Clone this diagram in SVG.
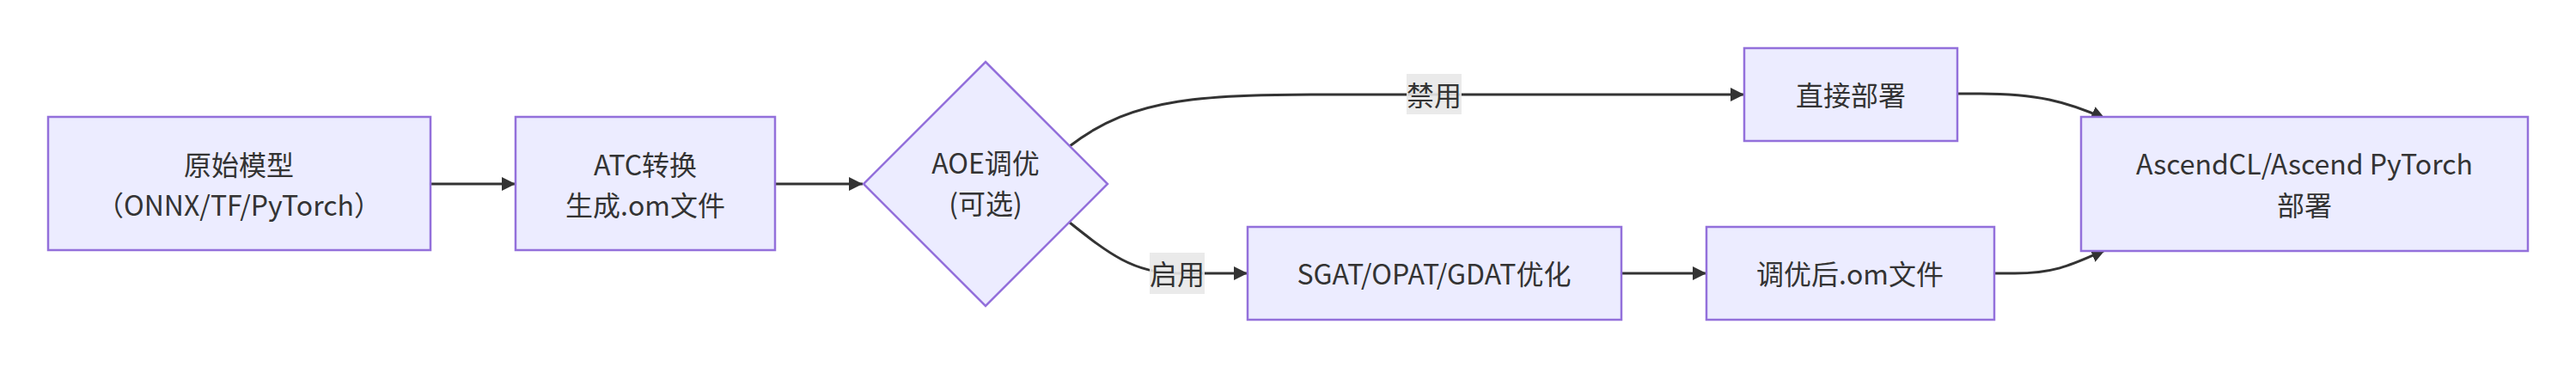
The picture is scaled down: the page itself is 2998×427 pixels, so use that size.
<svg xmlns="http://www.w3.org/2000/svg" width="2998" height="427" viewBox="0 0 2998 427">
<style>
.node rect, .node polygon { fill: #ECECFF; stroke: #9370DB; stroke-width: 2.5; }
.lbl { font-family: "Noto Sans CJK SC", "Liberation Sans", sans-serif; font-size: 32px; fill: #333333; text-anchor: middle; dominant-baseline: central; }
.edge { fill: none; stroke: #333333; stroke-width: 3; }
.elbg { fill: #E8E8E8; opacity: 0.9; }
</style>
<defs>
<marker id="arrow" viewBox="0 0 10 10" refX="10" refY="5" markerWidth="16" markerHeight="16" markerUnits="userSpaceOnUse" orient="auto">
<path d="M0,0 L10,5 L0,10 z" fill="#333333"/>
</marker>
</defs>
<rect width="2998" height="427" fill="#ffffff"/>
<g id="connectors">
<path class="edge" d="M501,214 L600,214" marker-end="url(#arrow)"/>
<path class="edge" d="M902,214 L1004,214" marker-end="url(#arrow)"/>
<path class="edge" d="M1245,170 C1320,112 1400,110 1560,110 L2030,110" marker-end="url(#arrow)"/>
<path class="edge" d="M1245,259 C1290,295 1320,318 1370,318 L1452,318" marker-end="url(#arrow)"/>
<path class="edge" d="M1887,318 L1986,318" marker-end="url(#arrow)"/>
<path class="edge" d="M2278,109 L2305,109 C2370,109 2405,118 2450,138" marker-end="url(#arrow)"/>
<path class="edge" d="M2321,318 L2345,318 C2395,318 2415,306 2450,291" marker-end="url(#arrow)"/>
<g id="label-disable">
<rect class="elbg" x="1637" y="86" width="64" height="47"/>
<text class="lbl" x="1669" y="109">禁用</text>
</g>
<g id="label-enable">
<rect class="elbg" x="1338" y="294" width="64" height="48"/>
<text class="lbl" x="1370" y="317">启用</text>
</g>
</g>
<g id="A" class="node">
<rect x="56" y="136" width="445" height="155"/>
<text class="lbl" x="278" y="190">原始模型</text>
<text class="lbl" x="278" y="237">（ONNX/TF/PyTorch）</text>
</g>
<g id="B" class="node">
<rect x="600" y="136" width="302" height="155"/>
<text class="lbl" x="751" y="190">ATC转换</text>
<text class="lbl" x="751" y="237">生成.om文件</text>
</g>
<g id="C" class="node">
<polygon points="1147,72 1289,214 1147,356 1005,214"/>
<text class="lbl" x="1147" y="188">AOE调优</text>
<text class="lbl" x="1147" y="235">(可选)</text>
</g>
<g id="D" class="node">
<rect x="2030" y="56" width="248" height="108"/>
<text class="lbl" x="2154" y="109">直接部署</text>
</g>
<g id="E" class="node">
<rect x="1452" y="264" width="435" height="108"/>
<text class="lbl" x="1669" y="317">SGAT/OPAT/GDAT优化</text>
</g>
<g id="F" class="node">
<rect x="1986" y="264" width="335" height="108"/>
<text class="lbl" x="2153" y="317">调优后.om文件</text>
</g>
<g id="G" class="node">
<rect x="2422" y="136" width="520" height="156"/>
<text class="lbl" x="2682" y="189">AscendCL/Ascend PyTorch</text>
<text class="lbl" x="2682" y="237">部署</text>
</g>
</svg>
